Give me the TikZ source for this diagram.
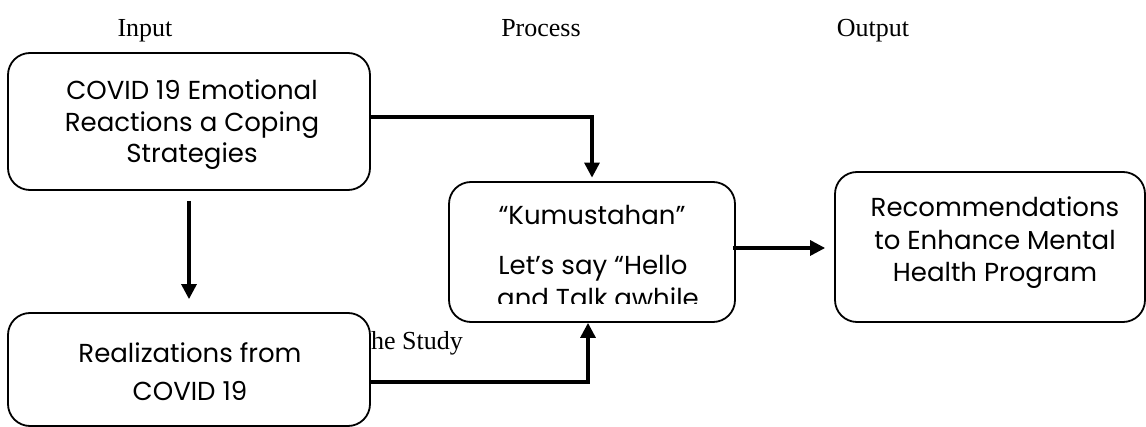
\documentclass[tikz,border=0pt]{standalone}
\usepackage{fontspec}
\setmainfont{Liberation Serif}
\newfontfamily\boxfont{Poppins}
\usetikzlibrary{arrows.meta}
\tikzset{
  box/.style={draw=black, line width=1.8pt, rounded corners=22pt, fill=white, inner sep=0pt},
  btext/.style={font=\boxfont\fontsize{26}{31}\selectfont, align=center, inner sep=0pt, anchor=base},
  head/.style={font=\fontsize{26}{30}\selectfont, inner sep=0pt, anchor=base},
  arr/.style={line width=3.2pt, -{Triangle[length=15pt,width=15pt]}}
}
\begin{document}
\begin{tikzpicture}[x=1pt,y=-1pt]
\useasboundingbox (0,0) rectangle (1146,427);
% headings
\node[head] (hin) at (145,37) {Input};
\node[head] (hpr) at (541,37) {Process};
\node[head] (hout) at (873,37) {Output};
% stray text
\node[head, anchor=base west] (study) at (371,350) {he Study};
% boxes
\node[box, minimum width=362pt, minimum height=137pt] (b1) at (189,121.5) {};
\node[box, minimum width=362pt, minimum height=113pt] (b2) at (189,369.5) {};
\node[box, minimum width=286pt, minimum height=140pt] (b3) at (592,252) {};
\node[box, minimum width=310pt, minimum height=150pt] (b4) at (990,247) {};
% box texts
\node[btext] (t1a) at (192,100) {COVID 19 Emotional};
\node[btext] (t1b) at (192,132) {Reactions a Coping};
\node[btext] (t1c) at (192,163) {Strategies};
\node[btext] (t2a) at (190,363) {Realizations from};
\node[btext] (t2b) at (190,401) {COVID 19};
\node[btext] (t3a) at (592,225) {“Kumustahan”};
\node[btext] (t3b) at (593,275) {Let’s say “Hello};
\begin{scope}
  \clip (449,182) rectangle (735,303.5);
  \node[btext] (t3c) at (598,308) {and Talk awhile};
\end{scope}
\node[btext] (t4a) at (995,217) {Recommendations};
\node[btext] (t4b) at (995,250) {to Enhance Mental};
\node[btext] (t4c) at (995,282) {Health Program};
% connectors
\coordinate (c1) at ([yshift=4.5pt]b1.east);
\coordinate (c2) at ([yshift=-12.5pt]b2.east);
\coordinate (c3) at ([yshift=4pt]b3.east);
\draw[arr, shorten >=3.5pt] (c1) -| (b3.north);
\draw[arr, shorten <=10pt, shorten >=13pt] (b1.south) -- (b2.north);
\draw[arr] (c2) -| ([xshift=-4pt]b3.south);
\draw[arr, shorten <=-3pt, shorten >=9pt] (c3) -- (c3 -| b4.west);
\end{tikzpicture}
\end{document}
